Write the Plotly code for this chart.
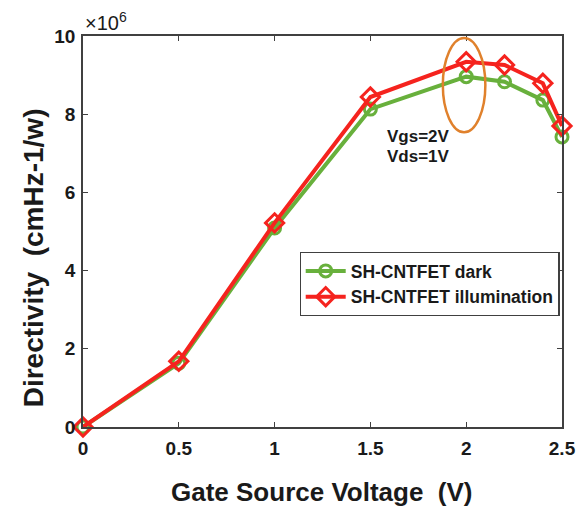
import plotly.graph_objects as go

# Gate-source voltage sweep (V)
vgs = [0, 0.5, 1, 1.5, 2, 2.2, 2.4, 2.5]
# Directivity (cmHz-1/w)
dark = [0.0, 1.63e6, 5.09e6, 8.13e6, 8.96e6, 8.83e6, 8.36e6, 7.42e6]
illum = [0.0, 1.68e6, 5.22e6, 8.44e6, 9.34e6, 9.26e6, 8.79e6, 7.70e6]
scale = 1e6

green = "#68b03c"
red = "#f5231e"
orange = "#e0812c"
ink = "#1a1a1a"
font_family = "Liberation Sans, Arial, sans-serif"

fig = go.Figure()
fig.add_trace(go.Scatter(
    x=vgs, y=[v / scale for v in dark], mode="lines+markers",
    name="SH-CNTFET dark", cliponaxis=False,
    line=dict(color=green, width=4),
    marker=dict(symbol="circle-open", size=12, color=green, line=dict(width=3, color=green)),
))
fig.add_trace(go.Scatter(
    x=vgs, y=[v / scale for v in illum], mode="lines+markers",
    name="SH-CNTFET illumination", cliponaxis=False,
    line=dict(color=red, width=4),
    marker=dict(symbol="diamond-open", size=14, color=red, line=dict(width=3, color=red)),
))

# Highlight around the Vgs=2V operating point
fig.add_shape(type="circle", xref="x", yref="y",
              x0=1.878, x1=2.10, y0=7.54, y1=9.95,
              line=dict(color=orange, width=2.5))

note_font = dict(family=font_family, size=17, color=ink, weight="bold")
fig.add_annotation(x=1.578, y=7.44, xref="x", yref="y", text="Vgs=2V",
                   showarrow=False, xanchor="left", yanchor="middle", font=note_font)
fig.add_annotation(x=1.578, y=6.91, xref="x", yref="y", text="Vds=1V",
                   showarrow=False, xanchor="left", yanchor="middle", font=note_font)

# Exponent label for the y axis
fig.add_annotation(x=0, y=1, xref="paper", yref="paper", yanchor="bottom", xanchor="left",
                   text="×10<sup>6</sup>", showarrow=False, xshift=0, yshift=0,
                   font=dict(family=font_family, size=20, color=ink))

# Axis titles
fig.add_annotation(x=-0.104, y=0.432, xref="paper", yref="paper",
                   text="Directivity\u00a0\u00a0(cmHz-1/w)", textangle=-90,
                   showarrow=False, xanchor="center", yanchor="middle",
                   font=dict(family=font_family, size=28, color=ink, weight="bold"))
fig.add_annotation(x=0.498, y=-0.166, xref="paper", yref="paper",
                   text="Gate Source Voltage\u00a0\u00a0(V)",
                   showarrow=False, xanchor="center", yanchor="middle",
                   font=dict(family=font_family, size=26, color=ink, weight="bold"))

axis_common = dict(
    showline=True, linecolor="#404040", linewidth=1.5, mirror="ticks",
    ticks="inside", ticklen=5, tickcolor="#404040", tickwidth=1.2,
    showgrid=False, zeroline=False,
    tickfont=dict(family=font_family, size=19, color=ink, weight="bold"),
)

fig.update_layout(
    width=588, height=508,
    margin=dict(l=83, r=14, t=36, b=81),
    paper_bgcolor="white", plot_bgcolor="white",
    xaxis=dict(range=[0, 2.5], tickvals=[0, 0.5, 1, 1.5, 2, 2.5],
               ticktext=["0", "0.5", "1", "1.5", "2", "2.5"],
               ticklabelstandoff=3, **axis_common),
    yaxis=dict(range=[0, 10], tickvals=[0, 2, 4, 6, 8, 10],
               ticktext=["0", "2", "4", "6", "8", "10"],
               ticklabelstandoff=2, **axis_common),
    legend=dict(x=0.452, y=0.448, xanchor="left", yanchor="top",
                bgcolor="white", bordercolor="#404040", borderwidth=1.2,
                font=dict(family=font_family, size=17.5, color=ink, weight="bold"),
                tracegroupgap=0, itemwidth=40),
    showlegend=True,
)

fig.write_html("out.html")
